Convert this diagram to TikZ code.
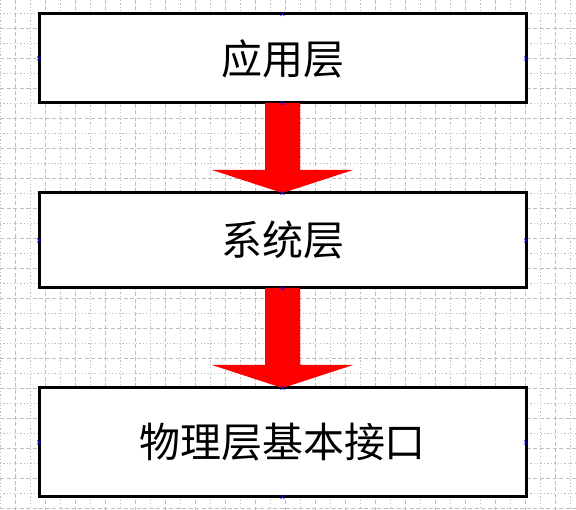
\documentclass[tikz,border=0pt]{standalone}
\usepackage{fontspec}
\newfontfamily\cjk{Noto Sans CJK SC}
\usepackage{tikz}
\usetikzlibrary{calc}

\tikzset{
    layer/.style={draw=black, line width=3pt, fill=white, rectangle, outer sep=0pt,
        minimum width=487pt, font=\cjk\fontsize{41}{41}\selectfont},
    minorgrid/.style={black!25, line width=0.7pt, dash pattern=on 1.2pt off 2.2pt},
    majorgrid/.style={black!25, line width=0.7pt, dash pattern=on 4pt off 2.5pt},
    pin/.style={blue, line width=0.6pt}
}

\newcommand{\layerarrow}[2]{%
    \fill[red] ($(#1.south)+(-17.5,0)$) -- ($(#1.south)+(17.5,0)$)
        -- ($(#2.north)+(17.5,-23)$) -- ($(#2.north)+(70.5,-23)$)
        -- (#2.north) -- ($(#2.north)+(-70.5,-23)$)
        -- ($(#2.north)+(-17.5,-23)$) -- cycle;}

\begin{document}
\begin{tikzpicture}[x=1pt, y=-1pt]
    \useasboundingbox (0,0) rectangle (576,510);
    %grid
    \foreach \gx in {0,30,...,570} \draw[minorgrid] (\gx,0) -- (\gx,510);
    \foreach \gx in {15,45,...,570} \draw[majorgrid] (\gx,0) -- (\gx,510);
    \foreach \gy in {13,43,...,510} \draw[minorgrid] (0,\gy) -- (576,\gy);
    \foreach \gy in {28,58,...,510} \draw[majorgrid] (0,\gy) -- (576,\gy);
    %layers
    \node[layer, minimum height=89pt] (app) at (282.5,58.5) {应用层};
    \node[layer, minimum height=95pt] (sys) at (282.5,240.5) {系统层};
    \node[layer, minimum height=109pt] (phy) at (282.5,442.5) {物理层基本接口};
    %arrows
    \layerarrow{app}{sys}
    \layerarrow{sys}{phy}
    %connection points
    \foreach \n in {app,sys,phy}
        \foreach \a in {north,south,east,west}
            \draw[pin] (\n.\a) +(-2,-2) -- +(2,2) +(-2,2) -- +(2,-2);
\end{tikzpicture}
\end{document}
